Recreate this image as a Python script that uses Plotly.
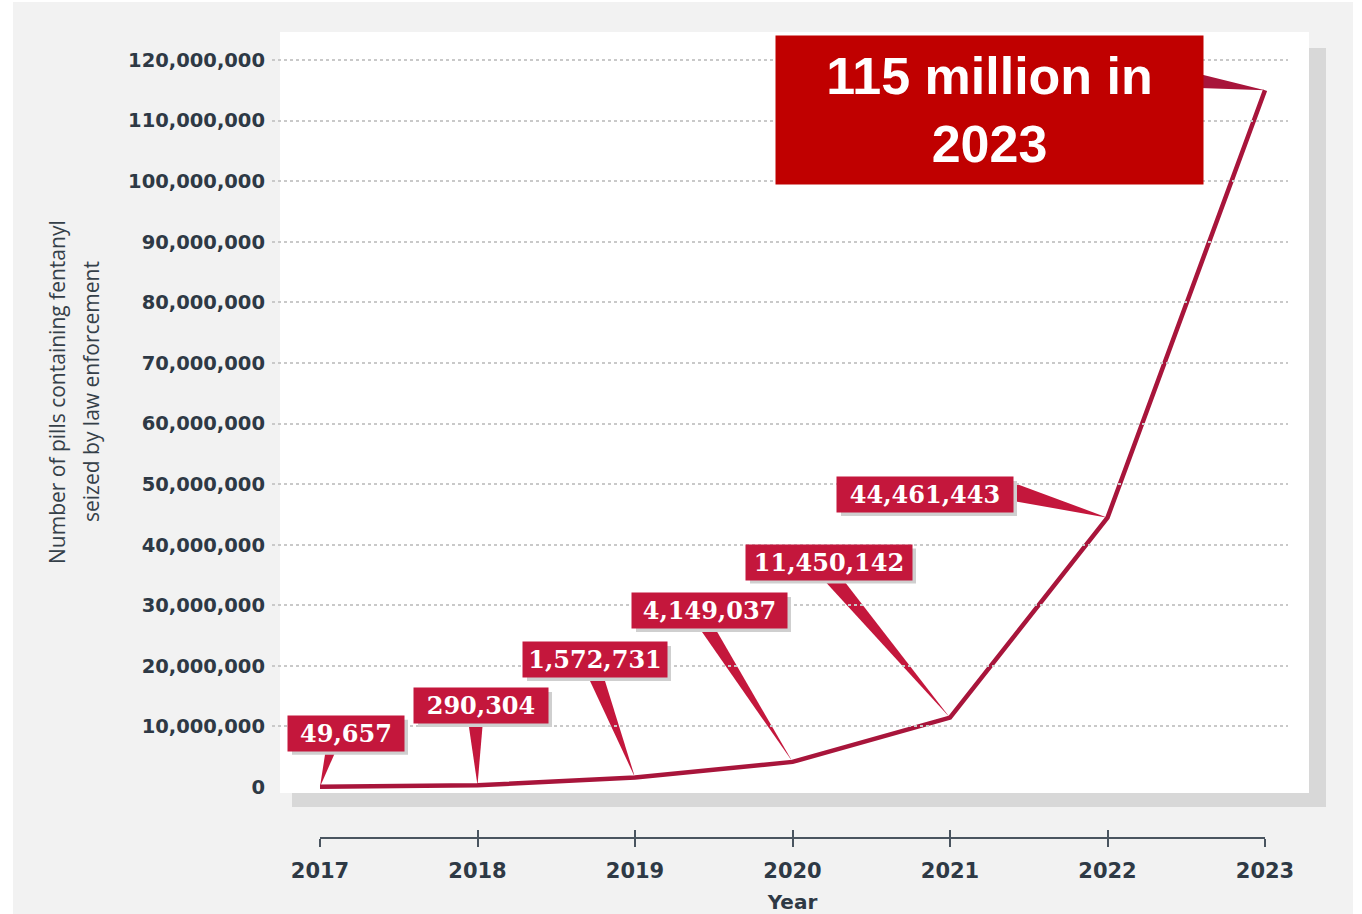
import plotly.graph_objects as go

# ---- data ----
years = [2017, 2018, 2019, 2020, 2021, 2022, 2023]
pills_seized = [49657, 290304, 1572731, 4149037, 11450142, 44461443, 115000000]
y_tick_values = [0, 10_000_000, 20_000_000, 30_000_000, 40_000_000, 50_000_000,
                 60_000_000, 70_000_000, 80_000_000, 90_000_000, 100_000_000,
                 110_000_000, 120_000_000]
year_tick_labels = ["2017", "2018", "2019", "2020", "2021", "2022", "2023"]
y_title_lines = ["Number of pills containing fentanyl", "seized by law enforcement"]
x_title = "Year"

# ---- page geometry (pixels) ----
FIG_W, FIG_H = 1362, 914
X_DOM = (272, 1288)          # left/right of the gridded area
Y_DOM = (40, 838)            # top/bottom of the gridded area (bottom = year axis line)
X0_PX, X_STEP = 320, 157.5   # pixel of first year, pixels per year
Y0_PX = 787                  # pixel of value 0
Y_PX_PER_UNIT = 60.58 / 1e7  # pixels per pill


def fx(p):
    return p / FIG_W


def fy(p):
    return 1 - p / FIG_H


x_range = [years[0] - (X0_PX - X_DOM[0]) / X_STEP,
           years[0] + (X_DOM[1] - X0_PX) / X_STEP]
y_range = [-(Y_DOM[1] - Y0_PX) / Y_PX_PER_UNIT,
           (Y0_PX - Y_DOM[0]) / Y_PX_PER_UNIT]

LINE_RED = "#a8153b"
BOX_RED = "#c4173c"
BIG_RED = "#c00000"
SHADOW = "#cfcfcf"
TEXT_DARK = "#2e3945"

# callout boxes: offset of box centre from the point (px, y downward),
# box size, and the two base corners of the pointer relative to the box centre
callouts = [
    dict(dx=26, dy=-53.5, w=116, h=35, base=[(-20, 15), (-9, 15)]),
    dict(dx=3.5, dy=-79.7, w=134, h=35, base=[(-13, 15), (2, 15)]),
    dict(dx=-40, dy=-118, w=144, h=35, base=[(-8, 15), (8, 15)]),
    dict(dx=-83, dy=-151.4, w=155, h=35, base=[(-12, 15), (4, 15)]),
    dict(dx=-121, dy=-155.6, w=166, h=35, base=[(-8, 15), (12, 15)]),
    dict(dx=-182.5, dy=-23.2, w=176, h=35, base=[(85, -13), (85, 6)]),
    dict(dx=-275.5, dy=19.7, w=427, h=148, base=[(210, -36), (210, -22)]),
]


def to_data(year, value, px, py):
    return year + px / X_STEP, value - py / Y_PX_PER_UNIT


fig = go.Figure()

# main series
fig.add_trace(go.Scatter(
    x=years, y=pills_seized, mode="lines",
    line=dict(color=LINE_RED, width=4.5),
    hoverinfo="skip", showlegend=False,
))

# pointer wedges from each callout box to its point
for yr, val, c in zip(years, pills_seized, callouts):
    pts = [(c["dx"] + bx, c["dy"] + by) for bx, by in c["base"]]
    xs, ys = [], []
    for px, py in pts + [(0, 0)]:
        dxv, dyv = to_data(yr, val, px, py)
        xs.append(dxv)
        ys.append(dyv)
    xs.append(xs[0])
    ys.append(ys[0])
    fig.add_trace(go.Scatter(
        x=xs, y=ys, mode="lines", fill="toself",
        fillcolor=LINE_RED if c is callouts[-1] else BOX_RED,
        line=dict(width=0, color=BOX_RED),
        hoverinfo="skip", showlegend=False,
    ))

# carrier traces for the detached year axis (tick marks above and below the line)
for ax_name in ("x2", "x3"):
    fig.add_trace(go.Scatter(
        x=years, y=pills_seized, xaxis=ax_name, yaxis="y", mode="markers",
        marker=dict(opacity=0), hoverinfo="skip", showlegend=False,
    ))

# page framing: white chart panel with a grey offset shadow
shapes = [
    dict(type="rect", xref="paper", yref="paper", layer="below",
         x0=fx(292), x1=fx(1326), y0=fy(807), y1=fy(48),
         fillcolor="#d8d8d8", line=dict(width=0)),
    dict(type="rect", xref="paper", yref="paper", layer="below",
         x0=fx(280), x1=fx(1309), y0=fy(793), y1=fy(32),
         fillcolor="white", line=dict(width=0)),
    dict(type="rect", xref="paper", yref="paper", layer="below",
         x0=0, x1=fx(13), y0=0, y1=1, fillcolor="white", line=dict(width=0)),
    dict(type="rect", xref="paper", yref="paper", layer="below",
         x0=fx(1353), x1=1, y0=0, y1=1, fillcolor="white", line=dict(width=0)),
    dict(type="rect", xref="paper", yref="paper", layer="below",
         x0=0, x1=1, y0=fy(2), y1=1, fillcolor="white", line=dict(width=0)),
]

# callout labels (small boxes get a grey drop shadow, anchored to their point)
for i, (yr, val, c) in enumerate(zip(years, pills_seized, callouts)):
    last = i == len(years) - 1
    if last:
        fig.add_annotation(
            x=yr, y=val, xref="x", yref="y", showarrow=False,
            xanchor="center", yanchor="middle",
            xshift=c["dx"], yshift=-c["dy"], width=c["w"], height=c["h"],
            borderpad=0, bgcolor=BIG_RED,
            text=f"{val / 1e6:.0f} million in<br>{yr}",
            font=dict(family="Liberation Sans, Arial", size=52, color="white", weight="bold"),
        )
        continue
    shapes.append(dict(
        type="rect", xref="x", yref="y", layer="above",
        xsizemode="pixel", ysizemode="pixel", xanchor=yr, yanchor=val,
        x0=c["dx"] - c["w"] / 2 + 4, x1=c["dx"] + c["w"] / 2 + 4,
        y0=-c["dy"] - c["h"] / 2 - 4, y1=-c["dy"] + c["h"] / 2 - 4,
        fillcolor=SHADOW, line=dict(width=0),
    ))
    fig.add_annotation(
        x=yr, y=val, xref="x", yref="y", showarrow=False,
        xanchor="center", yanchor="middle",
        xshift=c["dx"], yshift=-c["dy"], width=c["w"], height=c["h"],
        borderpad=0, bgcolor=BOX_RED, text=f"{val:,}",
        font=dict(family="DejaVu Serif", size=24, color="white", weight="bold"),
    )

# rotated y-axis title (two lines)
for line_text, x_px in zip(y_title_lines, (57, 91)):
    fig.add_annotation(
        x=fx(x_px), y=fy(392), xref="paper", yref="paper", showarrow=False,
        xanchor="center", yanchor="middle", textangle=-90, text=line_text,
        font=dict(family="Open Sans", size=21, color="#354049"),
    )

year_axis_common = dict(
    domain=[fx(X0_PX), fx(X0_PX + X_STEP * (len(years) - 1))],
    range=[years[0], years[-1]],
    anchor="free", position=fy(Y_DOM[1]),
    tickmode="array", tickvals=years, ticktext=year_tick_labels,
    showgrid=False, zeroline=False, automargin=False,
    tickcolor="#4a5560", tickwidth=2, ticklen=8,
    fixedrange=True,
)

fig.update_layout(
    width=FIG_W, height=FIG_H, autosize=False,
    margin=dict(l=0, r=0, t=0, b=0, pad=0, autoexpand=False),
    paper_bgcolor="#f2f2f2",
    plot_bgcolor="rgba(0,0,0,0)",
    showlegend=False,
    shapes=shapes,
    xaxis=dict(
        domain=[fx(X_DOM[0]), fx(X_DOM[1])], range=x_range,
        visible=False, showgrid=False, zeroline=False, fixedrange=True,
        automargin=False,
    ),
    yaxis=dict(
        domain=[fy(Y_DOM[1]), fy(Y_DOM[0])], range=y_range,
        tickmode="array", tickvals=y_tick_values, tickformat=",",
        showgrid=True, gridcolor="#c9c9c9", gridwidth=2, griddash="dot",
        zeroline=True, zerolinecolor="rgba(0,0,0,0)",
        showline=False, ticks="", ticklabelstandoff=6, automargin=False,
        tickfont=dict(family="DejaVu Sans", size=19.5, color=TEXT_DARK, weight="bold"),
        fixedrange=True,
    ),
    xaxis2=dict(
        **year_axis_common,
        showline=True, linecolor="#4a5560", linewidth=2,
        ticks="outside", ticklabelstandoff=6,
        tickfont=dict(family="DejaVu Sans", size=21, color=TEXT_DARK, weight="bold"),
        title=dict(text=x_title, standoff=20,
                   font=dict(family="DejaVu Sans", size=20, color=TEXT_DARK, weight="bold")),
    ),
    xaxis3=dict(
        **year_axis_common,
        showline=False, ticks="inside", showticklabels=False,
    ),
)

fig.write_html("out.html")
